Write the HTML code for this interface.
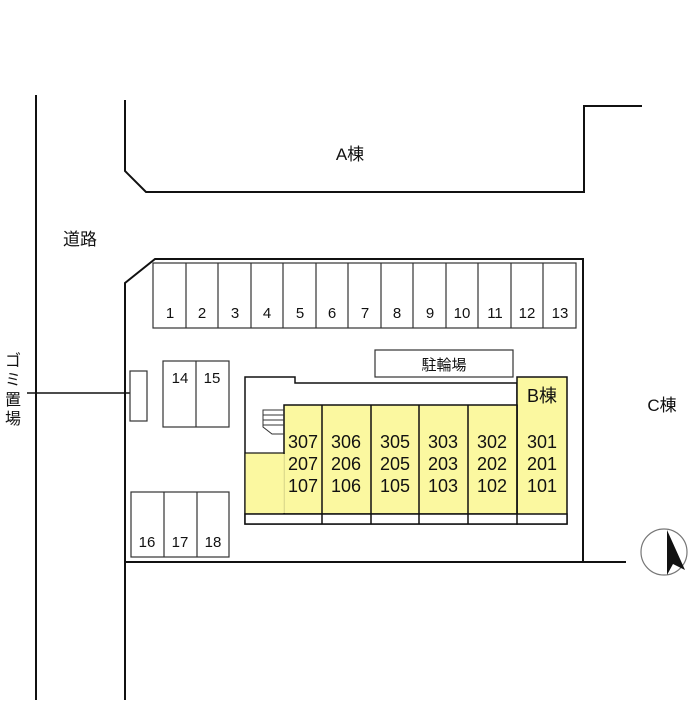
<!DOCTYPE html>
<html><head><meta charset="utf-8"><style>
body{margin:0;background:#fff}
svg text{font-family:"Liberation Sans","Noto Sans CJK JP",sans-serif;fill:#111}
svg text.jp{font-family:"Noto Sans CJK JP","WenQuanYi Zen Hei",sans-serif}
</style></head><body>
<svg width="700" height="700" viewBox="0 0 700 700" xmlns="http://www.w3.org/2000/svg">
<g fill="none" stroke="#111" stroke-width="2">
<line x1="36" y1="95" x2="36" y2="700"/>
<polyline points="125,100 125,171 146,192 584,192 584,106 642,106"/>
<polyline points="125,700 125,283 155,259 583,259 583,562"/>
<line x1="125" y1="562" x2="626" y2="562"/>
</g>
<line x1="27" y1="393" x2="138" y2="393" stroke="#111" stroke-width="1.5"/>
<rect x="130" y="371" width="17" height="50" fill="#fff" stroke="#333" stroke-width="1.2"/>
<g fill="none" stroke="#333" stroke-width="1.2">
<rect x="153" y="263" width="423" height="65"/>
<rect x="163" y="361" width="66" height="66"/><line x1="196" y1="361" x2="196" y2="427"/>
<rect x="131" y="492" width="98" height="65"/><line x1="164" y1="492" x2="164" y2="557"/><line x1="197" y1="492" x2="197" y2="557"/>
<rect x="375" y="350" width="138" height="27"/>
</g>
<g stroke="#333" stroke-width="1.2">
<line x1="186" y1="263" x2="186" y2="328"/><line x1="218" y1="263" x2="218" y2="328"/><line x1="251" y1="263" x2="251" y2="328"/><line x1="283" y1="263" x2="283" y2="328"/><line x1="316" y1="263" x2="316" y2="328"/><line x1="348" y1="263" x2="348" y2="328"/><line x1="381" y1="263" x2="381" y2="328"/><line x1="413" y1="263" x2="413" y2="328"/><line x1="446" y1="263" x2="446" y2="328"/><line x1="478" y1="263" x2="478" y2="328"/><line x1="511" y1="263" x2="511" y2="328"/><line x1="543" y1="263" x2="543" y2="328"/>
</g>
<polygon points="245,377 295,377 295,383 517,383 517,524 245,524" fill="#fff" stroke="#111" stroke-width="1.5"/>
<rect x="517" y="377" width="50" height="147" fill="#fbf8a0" stroke="#111" stroke-width="1.5"/>
<rect x="284" y="405" width="233" height="109" fill="#fbf8a0" stroke="#111" stroke-width="1.5"/>
<rect x="245" y="453" width="39" height="61" fill="#fbf8a0" stroke="#111" stroke-width="1.2"/>
<line x1="284" y1="454" x2="284" y2="513" stroke="#fbf8a0" stroke-width="1.6"/>
<rect x="245" y="514" width="322" height="10" fill="#fff" stroke="#111" stroke-width="1.5"/>
<g stroke="#111" stroke-width="1.5">
<line x1="322" y1="405" x2="322" y2="524"/><line x1="371" y1="405" x2="371" y2="524"/><line x1="419" y1="405" x2="419" y2="524"/><line x1="468" y1="405" x2="468" y2="524"/><line x1="517" y1="405" x2="517" y2="524"/>
</g>
<g fill="none" stroke="#333" stroke-width="1">
<polyline points="284,410 263,410 263,427 272,434 284,434"/>
<line x1="263" y1="415" x2="284" y2="415"/><line x1="263" y1="420" x2="284" y2="420"/><line x1="263" y1="425" x2="284" y2="425"/>
</g>
<circle cx="664" cy="552" r="23" fill="#fff" stroke="#777" stroke-width="1.2"/>
<polygon points="667,530 685,570 673,564 667,575" fill="#111"/>
<g font-size="15" text-anchor="middle">
<text x="170" y="318">1</text><text x="202" y="318">2</text><text x="235" y="318">3</text><text x="267" y="318">4</text><text x="300" y="318">5</text><text x="332" y="318">6</text><text x="365" y="318">7</text><text x="397" y="318">8</text><text x="430" y="318">9</text><text x="462" y="318">10</text><text x="495" y="318">11</text><text x="527" y="318">12</text><text x="560" y="318">13</text>
<text x="180" y="383">14</text><text x="212" y="383">15</text>
<text x="147" y="547">16</text><text x="180" y="547">17</text><text x="213" y="547">18</text>
<text x="444" y="370">駐輪場</text>
</g>
<g font-size="18" text-anchor="middle">
<text x="303" y="448">307</text><text x="303" y="470">207</text><text x="303" y="492">107</text>
<text x="346" y="448">306</text><text x="346" y="470">206</text><text x="346" y="492">106</text>
<text x="395" y="448">305</text><text x="395" y="470">205</text><text x="395" y="492">105</text>
<text x="443" y="448">303</text><text x="443" y="470">203</text><text x="443" y="492">103</text>
<text x="492" y="448">302</text><text x="492" y="470">202</text><text x="492" y="492">102</text>
<text x="542" y="448">301</text><text x="542" y="470">201</text><text x="542" y="492">101</text>
<text x="542" y="402">B棟</text>
</g>
<g font-size="17" text-anchor="middle">
<text x="350" y="160">A棟</text>
<text x="80" y="245">道路</text>
<text x="662" y="411">C棟</text>
</g>
<g font-size="16" text-anchor="middle">
<text class="jp" x="13" y="366">ゴ</text><text class="jp" x="13" y="385">ミ</text><text class="jp" x="13" y="405">置</text><text class="jp" x="13" y="424">場</text>
</g>
</svg>
</body></html>
